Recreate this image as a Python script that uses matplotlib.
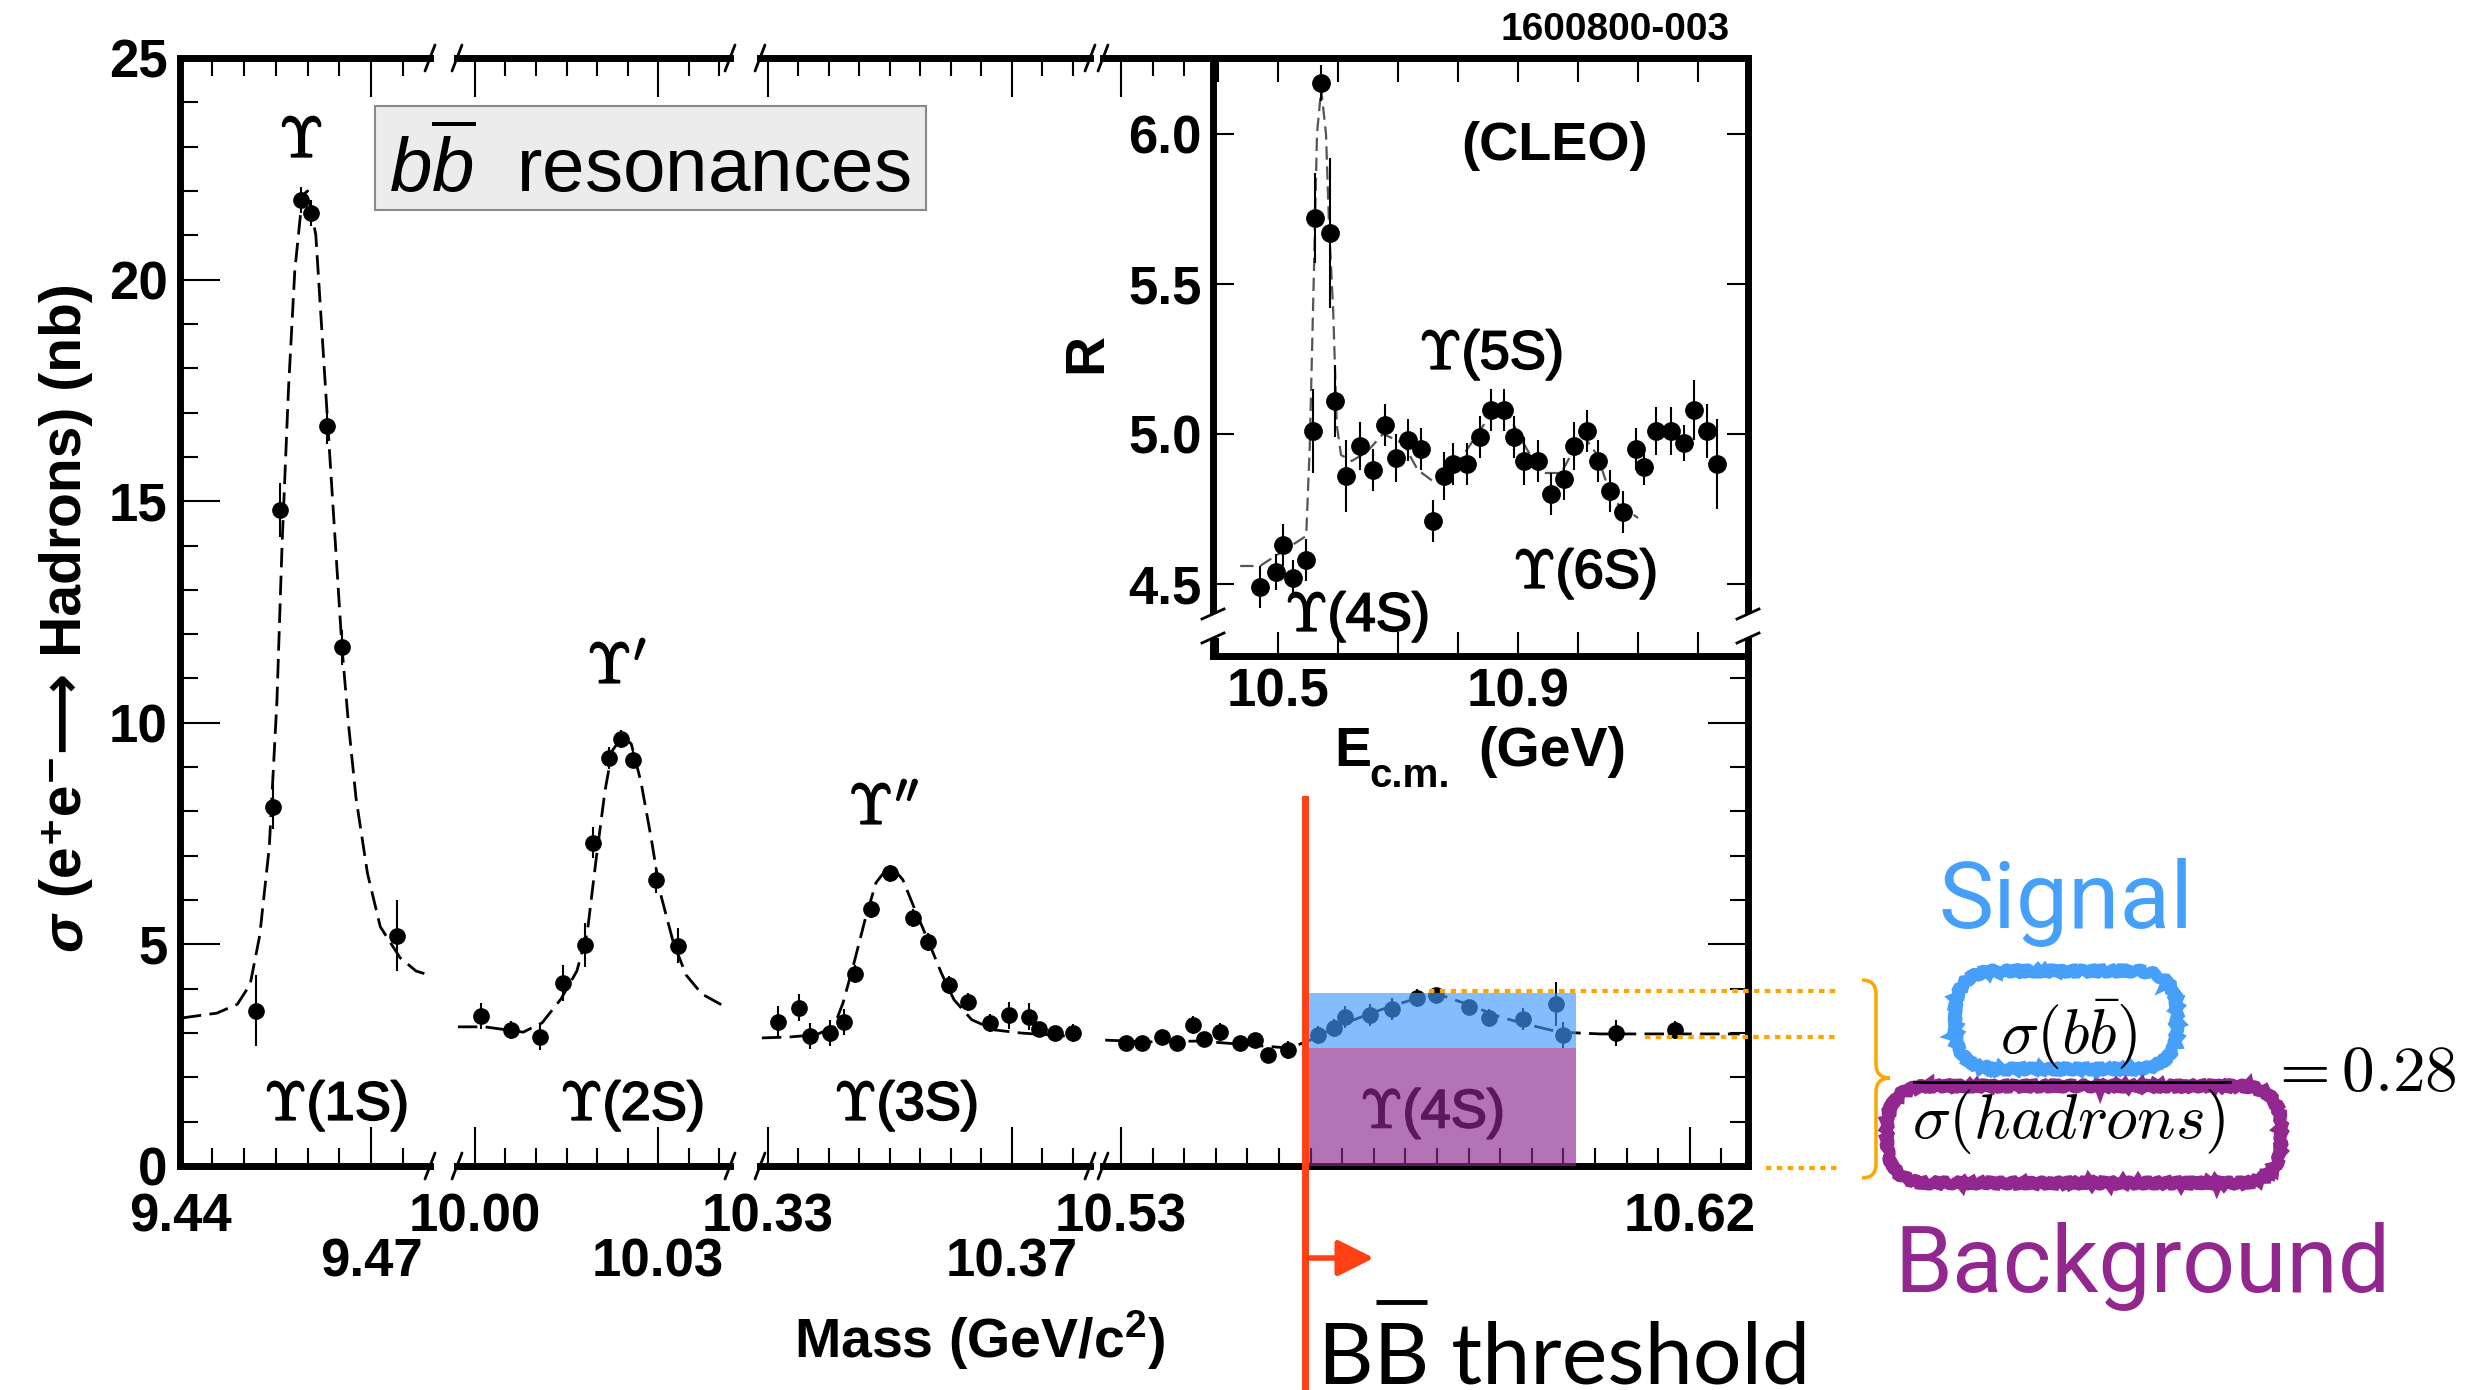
import matplotlib
matplotlib.use("Agg")
import matplotlib.pyplot as plt
from matplotlib.patches import Rectangle, FancyBboxPatch, PathPatch
from matplotlib.path import Path
from matplotlib.ticker import MultipleLocator
import matplotlib.patheffects as pe

W, H = 2481, 1390

# ---- main panel: sigma(e+e- -> hadrons) [nb] vs mass [GeV/c^2]
m_1s = [9.4519, 9.4546, 9.4557, 9.4590, 9.4605, 9.4631, 9.4654, 9.4741]
s_1s = [3.5, 8.1, 14.8, 21.8, 21.5, 16.7, 11.7, 5.2]
e_1s = [0.8, 0.5, 0.6, 0.3, 0.3, 0.4, 0.4, 0.8]
fit_m_1s = [9.4403, 9.4458, 9.4490, 9.4510, 9.4525, 9.4540, 9.4552, 9.4560, 9.4570,
            9.4580, 9.4592, 9.4600, 9.4613, 9.4631, 9.4654, 9.4664, 9.4676, 9.4694,
            9.4714, 9.4745, 9.4770, 9.4792]
fit_s_1s = [3.34, 3.45, 3.65, 4.1, 5.2, 7.2, 10.5, 14.0, 17.5,
            20.2, 21.9, 22.0, 21.0, 16.9, 11.7, 10.0, 8.3, 6.6,
            5.4, 4.7, 4.4, 4.3]

m_2s = [10.0010, 10.0059, 10.0107, 10.0144, 10.0180, 10.0193, 10.0220, 10.0239,
        10.0259, 10.0297, 10.0333]
s_2s = [3.38, 3.07, 2.91, 4.13, 4.99, 7.29, 9.2, 9.64, 9.17, 6.45, 4.97]
e_2s = [0.3, 0.2, 0.3, 0.4, 0.5, 0.35, 0.25, 0.2, 0.2, 0.3, 0.4]
fit_m_2s = [9.9972, 10.0016, 10.0079, 10.0110, 10.0141, 10.0167, 10.0184, 10.0198,
            10.0213, 10.0225, 10.0241, 10.0256, 10.0272, 10.0289, 10.0303, 10.0325,
            10.0346, 10.0372, 10.0413]
fit_s_2s = [3.14, 3.14, 3.02, 3.23, 3.77, 4.4, 5.26, 6.86, 8.46, 9.37, 9.68, 9.53,
            8.67, 7.38, 6.2, 5.05, 4.31, 3.88, 3.57]

m_3s = [10.3316, 10.3351, 10.3369, 10.3402, 10.3425, 10.3443, 10.3469, 10.3500,
        10.3538, 10.3562, 10.3597, 10.3628, 10.3664, 10.3695, 10.3728, 10.3744,
        10.3770, 10.3800]
s_3s = [3.25, 3.57, 2.93, 3.0, 3.25, 4.33, 5.8, 6.6, 5.6, 5.06, 4.08, 3.7, 3.22,
        3.4, 3.37, 3.09, 3.0, 3.0]
e_3s = [0.35, 0.3, 0.3, 0.3, 0.3, 0.2, 0.2, 0.2, 0.2, 0.2, 0.2, 0.2, 0.2, 0.3,
        0.3, 0.15, 0.15, 0.2]
fit_m_3s = [10.3290, 10.3334, 10.3379, 10.3408, 10.3423, 10.3441, 10.3459, 10.3477,
            10.3500, 10.3521, 10.3539, 10.3562, 10.3584, 10.3605, 10.3634, 10.3672,
            10.3715, 10.3759, 10.3810]
fit_s_3s = [2.89, 2.91, 2.96, 3.14, 3.68, 4.58, 5.55, 6.39, 6.8, 6.46, 5.85, 5.1,
            4.36, 3.75, 3.3, 3.07, 3.0, 2.96, 2.91]

m_4s = [10.5308, 10.5333, 10.5365, 10.5389, 10.5414, 10.5431, 10.5457, 10.5488,
        10.5512, 10.5533, 10.5564, 10.5612, 10.5637, 10.5654, 10.5694, 10.5729,
        10.5768, 10.5798, 10.5850, 10.5882, 10.5936, 10.5988, 10.5999, 10.6083, 10.6176]
s_4s = [2.78, 2.78, 2.91, 2.78, 3.18, 2.87, 3.03, 2.78, 2.84, 2.5, 2.62, 2.96, 3.11,
        3.36, 3.41, 3.54, 3.79, 3.86, 3.59, 3.34, 3.32, 3.66, 2.96, 3.0, 3.07]
e_4s = [0.15, 0.15, 0.15, 0.15, 0.2, 0.15, 0.2, 0.15, 0.15, 0.15, 0.2, 0.2, 0.2,
        0.25, 0.25, 0.25, 0.2, 0.15, 0.15, 0.2, 0.25, 0.5, 0.3, 0.3, 0.2]
fit_m_4s = [10.5275, 10.5346, 10.5425, 10.5504, 10.5567, 10.5599, 10.5646, 10.5710,
            10.5773, 10.5805, 10.5852, 10.5900, 10.5947, 10.5994, 10.6058, 10.6137,
            10.6216, 10.6279]
fit_s_4s = [2.84, 2.8, 2.82, 2.73, 2.66, 2.84, 3.18, 3.52, 3.81, 3.86, 3.63, 3.36,
            3.18, 3.02, 2.98, 2.98, 2.98, 2.98]

bb_threshold = 10.5591
signal_top, signal_bottom = 3.9, 2.66
box_m0, box_m1 = 10.5596, 10.6020

# ---- inset: R vs E_cm [GeV] (CLEO)
e_cm = [10.470, 10.497, 10.508, 10.525, 10.547, 10.558, 10.562, 10.572, 10.587, 10.595,
        10.613, 10.637, 10.658, 10.678, 10.697, 10.717, 10.738, 10.758, 10.777, 10.792,
        10.815, 10.837, 10.855, 10.877, 10.893, 10.910, 10.933, 10.955, 10.977, 10.993,
        11.015, 11.033, 11.053, 11.075, 11.097, 11.110, 11.130, 11.155, 11.177, 11.193,
        11.215, 11.232]
r_val = [4.49, 4.54, 4.63, 4.52, 4.58, 5.01, 5.72, 6.17, 5.67, 5.11,
         4.86, 4.96, 4.88, 5.03, 4.92, 4.98, 4.95, 4.71, 4.86, 4.90,
         4.90, 4.99, 5.08, 5.08, 4.99, 4.91, 4.91, 4.80, 4.85, 4.96,
         5.01, 4.91, 4.81, 4.74, 4.95, 4.89, 5.01, 5.01, 4.97, 5.08,
         5.01, 4.90]
r_err = [0.07, 0.06, 0.07, 0.06, 0.07, 0.14, 0.15, 0.06, 0.25, 0.12,
         0.12, 0.08, 0.07, 0.07, 0.08, 0.07, 0.07, 0.07, 0.08, 0.07,
         0.07, 0.07, 0.07, 0.07, 0.07, 0.08, 0.07, 0.07, 0.07, 0.08,
         0.07, 0.07, 0.07, 0.07, 0.07, 0.06, 0.08, 0.08, 0.06, 0.1,
         0.09, 0.15]
fit_e = [10.437, 10.470, 10.547, 10.553, 10.560, 10.565, 10.572, 10.580, 10.585, 10.592,
         10.598, 10.605, 10.623, 10.648, 10.675, 10.708, 10.733, 10.760, 10.802, 10.853,
         10.878, 10.903, 10.938, 10.972, 11.007, 11.032, 11.057, 11.100]
fit_r = [4.56, 4.56, 4.66, 4.96, 5.55, 6.0, 6.15, 6.0, 5.7, 5.41,
         5.03, 4.93, 4.91, 4.94, 5.0, 4.97, 4.88, 4.84, 4.91, 5.06,
         5.09, 4.99, 4.87, 4.87, 5.0, 4.93, 4.78, 4.72]

RED = '#ff4015'
ORANGE = '#ffa500'
BLUE = '#46a0fa'
PURPLE = '#92278f'

plt.rcParams['font.family'] = ['Liberation Sans', 'DejaVu Sans']
plt.rcParams['font.weight'] = 'bold'
plt.rcParams['mathtext.fontset'] = 'custom'
plt.rcParams['mathtext.rm'] = 'Liberation Sans:bold'
plt.rcParams['mathtext.bf'] = 'Liberation Sans:bold'
plt.rcParams['mathtext.it'] = 'Liberation Sans:style=italic:weight=normal'

fig = plt.figure(figsize=(W / 100, H / 100), dpi=100)


def px_axes(l, t, r, b):
    return fig.add_axes([l / W, 1 - b / H, (r - l) / W, (b - t) / H])


# (left px, right px, mass min, mass max, upper-row ticks, lower-row ticks)
segments = [
    (180, 430, 9.44, 9.4792, [9.44], [9.47]),
    (457, 730, 9.99705, 10.0418, [10.00], [10.03]),
    (760, 1090, 10.32869, 10.38279, [10.33], [10.37]),
    (1103, 1748, 10.52715, 10.62921, [10.53, 10.62], []),
]
series = [(m_1s, s_1s, e_1s, fit_m_1s, fit_s_1s),
          (m_2s, s_2s, e_2s, fit_m_2s, fit_s_2s),
          (m_3s, s_3s, e_3s, fit_m_3s, fit_s_3s),
          (m_4s, s_4s, e_4s, fit_m_4s, fit_s_4s)]

axes = []
for i, ((l, r, x0, x1, row1, row2), (m, s, e, fm, fs)) in enumerate(zip(segments, series)):
    ax = px_axes(l, 58, r, 1166)
    ax.set_facecolor('none')
    ax.set_xlim(x0, x1)
    ax.set_ylim(0, 25)
    ax.plot(fm, fs, color='k', lw=2, dashes=(7, 3), zorder=2)
    ax.errorbar(m, s, yerr=e, fmt='o', color='k', ms=11, elinewidth=1.5,
                capsize=0, zorder=2.2)
    for side in ['top', 'bottom', 'left', 'right']:
        ax.spines[side].set_linewidth(5)
    ax.spines['left'].set_visible(i == 0)
    ax.spines['right'].set_visible(i == 3)
    ax.set_xticks(row1 + row2)
    ax.set_xticklabels([f'{v:.2f}' for v in row1] + [''] * len(row2), fontsize=38)
    for v in row2:
        ax.text(v, -0.0875, f'{v:.2f}', transform=ax.get_xaxis_transform(),
                fontsize=38, ha='center', va='center')
    ax.xaxis.set_minor_locator(MultipleLocator(0.005))
    ax.tick_params(axis='x', which='both', direction='in', top=True, bottom=True,
                   width=1.5, pad=19)
    ax.tick_params(axis='x', which='major', length=28)
    ax.tick_params(axis='x', which='minor', length=13)
    ax.set_yticks([0, 5, 10, 15, 20, 25])
    ax.yaxis.set_minor_locator(MultipleLocator(1))
    ax.tick_params(axis='y', which='both', direction='in', width=1.5,
                   left=(i == 0), right=(i == 3), labelleft=(i == 0),
                   labelsize=38, pad=9)
    ax.tick_params(axis='y', which='major', length=29)
    ax.tick_params(axis='y', which='minor', length=13)
    axes.append(ax)

thick = [pe.withStroke(linewidth=1.3, foreground='k')]

ax4 = axes[3]
# signal / background regions above the BB threshold
ax4.add_patch(Rectangle((box_m0, signal_bottom), box_m1 - box_m0, signal_top - signal_bottom,
                        facecolor='#419afe', alpha=0.65, lw=0, zorder=3))
ax4.add_patch(Rectangle((box_m0, 0), box_m1 - box_m0, signal_bottom,
                        facecolor='#8d288d', alpha=0.65, lw=0, zorder=3))
ax4.text(10.5792, 1.18, r'$\Upsilon$(4S)', math_fontfamily='cm', fontsize=39,
         fontweight='normal', ha='center', va='center', zorder=2, path_effects=thick)
ax4.axvline(bb_threshold, ymin=-0.21, ymax=0.331, color=RED, lw=5, clip_on=False, zorder=5)

# ---- inset
axi = px_axes(1213, 58, 1748, 656)
axi.set_facecolor('white')
axi.set_xlim(10.3917, 11.2833)
axi.set_ylim(4.26, 6.253)
axi.plot(fit_e, fit_r, color='#555555', lw=1.6, dashes=(6, 3), zorder=2)
axi.errorbar(e_cm, r_val, yerr=r_err, fmt='o', color='k', ms=12.5, elinewidth=1.5,
             capsize=0, zorder=3)
for side in ['top', 'bottom', 'left', 'right']:
    axi.spines[side].set_linewidth(5)
axi.set_xticks([10.5, 10.9])
axi.set_xticklabels(['10.5', '10.9'], fontsize=38)
axi.xaxis.set_minor_locator(MultipleLocator(0.1))
axi.set_yticks([4.5, 5.0, 5.5, 6.0])
axi.set_yticklabels(['4.5', '5.0', '5.5', '6.0'], fontsize=38)
axi.tick_params(axis='x', which='both', direction='in', top=True, bottom=True,
                length=17, width=1.5, pad=8)
axi.tick_params(axis='y', which='both', direction='in', left=True, right=True,
                length=15, width=1.5, pad=8)

# ---- overlay in pixel coordinates for annotations
ov = fig.add_axes([0, 0, 1, 1], zorder=10)
ov.set_xlim(0, W)
ov.set_ylim(H, 0)
ov.axis('off')
ov.patch.set_alpha(0)
renderer = fig.canvas.get_renderer()

# axis breaks
for x in [430, 457, 730, 760, 1090, 1103]:
    for y in [58, 1166]:
        ov.plot([x - 5, x + 5], [y + 13, y - 13], color='k', lw=2, solid_capstyle='round')
for x in [1213, 1748]:
    ov.add_patch(Rectangle((x - 10, 614), 20, 24, facecolor='white', lw=0, zorder=3))
    for y in [614, 638]:
        ov.plot([x - 11, x + 11], [y + 5, y - 5], color='k', lw=2, zorder=4)

# y label: italic sigma followed by the rest, laid along a common baseline
ylab_rest = ' (e\u207ae\u207b\u27f6 Hadrons) (nb)'
probe = ov.text(0, 0, '\u03c3' + ylab_rest, fontsize=41, va='baseline')
bb = probe.get_window_extent(renderer)
probe.remove()
base_x = 66 + ((bb.y0 + bb.y1) / 2 - H)
probe = ov.text(0, 0, '\u03c3', fontsize=41, fontstyle='italic')
w_sig = probe.get_window_extent(renderer).width
probe.set_text(ylab_rest)
probe.set_fontstyle('normal')
w_rest = probe.get_window_extent(renderer).width
probe.remove()
y_start = 617 + (w_sig + w_rest) / 2
ov.text(base_x, y_start, '\u03c3', fontsize=41, fontstyle='italic', rotation=90,
        rotation_mode='anchor', ha='left', va='baseline')
ov.text(base_x, y_start - w_sig, ylab_rest, fontsize=41, rotation=90,
        rotation_mode='anchor', ha='left', va='baseline')

ov.text(980, 1358, r'Mass (GeV/c$^{\mathrm{2}}$)', fontsize=40, ha='center', va='baseline')
ov.text(1730, 30, '1600800-003', fontsize=28, ha='right', va='center')
ov.text(1555, 146, '(CLEO)', fontsize=39, ha='center', va='center')
ov.text(1087, 353, 'R', fontsize=40, rotation=90, ha='center', va='center')
ov.text(1334, 766, 'E', fontsize=40, ha='left', va='baseline')
ov.text(1369, 787, 'c.m.', fontsize=29, ha='left', va='baseline')
ov.text(1478, 766, '(GeV)', fontsize=40, ha='left', va='baseline')

ov.add_patch(FancyBboxPatch((375, 106), 551, 104, boxstyle='square,pad=0',
                            facecolor='#ececec', edgecolor='#8a8a8a', lw=1.5))
ov.text(389, 192, r'$b\overline{b}$  resonances', fontsize=55, fontweight='normal',
        ha='left', va='baseline')

ups = dict(math_fontfamily='cm', fontweight='normal', ha='center', va='center',
           path_effects=thick)
ov.text(301, 142, r'$\Upsilon$', fontsize=41, **ups)
ov.text(617, 668, r"$\Upsilon'$", fontsize=41, **ups)
ov.text(884, 809, r"$\Upsilon''$", fontsize=41, **ups)
ov.text(336, 1106, r'$\Upsilon$(1S)', fontsize=39, **ups)
ov.text(632, 1106, r'$\Upsilon$(2S)', fontsize=39, **ups)
ov.text(906, 1106, r'$\Upsilon$(3S)', fontsize=39, **ups)
ov.text(1491, 355, r'$\Upsilon$(5S)', fontsize=39, **ups)
ov.text(1585, 574, r'$\Upsilon$(6S)', fontsize=39, **ups)
ov.text(1357, 617, r'$\Upsilon$(4S)', fontsize=39, **ups)

# threshold arrow and label
ov.annotate('', xy=(1374, 1258), xytext=(1309, 1258),
            arrowprops=dict(arrowstyle='-|>,head_length=1.1,head_width=0.55',
                            mutation_scale=20, color=RED, lw=4, shrinkA=0, shrinkB=0))
bb_font = dict(family=['Lato', 'DejaVu Sans'], fontsize=62, fontweight='normal')
ov.text(1318, 1383, 'BB threshold', ha='left', va='baseline', **bb_font)
probe = ov.text(0, 0, 'B', **bb_font)
w1 = probe.get_window_extent(renderer).width
probe.set_text('BB')
w2 = probe.get_window_extent(renderer).width
probe.remove()
ov.plot([1318 + w1 + 2, 1318 + w2 - 2], [1302, 1302], color='k', lw=3.5, solid_capstyle='butt')

# level guides and brace
for x0, x1, y in [(1429, 1839, 991), (1645, 1839, 1037), (1766, 1839, 1168)]:
    ov.plot([x0, x1], [y, y], color=ORANGE, lw=3, dashes=(1.3, 1.3))
brace = Path([(1862, 980), (1876, 980), (1876, 994), (1876, 1064), (1876, 1078),
              (1890, 1078), (1876, 1078), (1876, 1092), (1876, 1164), (1876, 1178),
              (1862, 1178)],
             [Path.MOVETO, Path.CURVE3, Path.CURVE3, Path.LINETO, Path.CURVE3, Path.CURVE3,
              Path.CURVE3, Path.CURVE3, Path.LINETO, Path.CURVE3, Path.CURVE3])
ov.add_patch(PathPatch(brace, facecolor='none', edgecolor=ORANGE, lw=2.5))

# signal / background ratio
blue_box = FancyBboxPatch((1955, 971), 222, 98, boxstyle='round,pad=0,rounding_size=42',
                          facecolor='none', edgecolor=BLUE, lw=8)
purple_box = FancyBboxPatch((1887, 1086), 394, 97, boxstyle='round,pad=0,rounding_size=42',
                            facecolor='none', edgecolor=PURPLE, lw=8)
for p in (blue_box, purple_box):
    p.set_sketch_params(scale=2, length=12, randomness=4)
    ov.add_patch(p)
ov.text(1912, 1077, r'$\dfrac{\sigma(b\bar{b})}{\sigma(hadrons)}$', math_fontfamily='cm',
        fontsize=46, fontweight='normal', ha='left', va='center')
ov.text(2268, 1074, r'$= 0.28$', math_fontfamily='cm', fontsize=47, fontweight='normal',
        ha='left', va='center')
light = dict(family=['Roboto', 'DejaVu Sans'], fontweight='normal', fontsize=67)
ov.text(2066, 928, 'Signal', color=BLUE, ha='center', va='baseline', **light)
ov.text(2142, 1292, 'Background', color=PURPLE, ha='center', va='baseline', **light)

fig.savefig('out.png', dpi=100)
